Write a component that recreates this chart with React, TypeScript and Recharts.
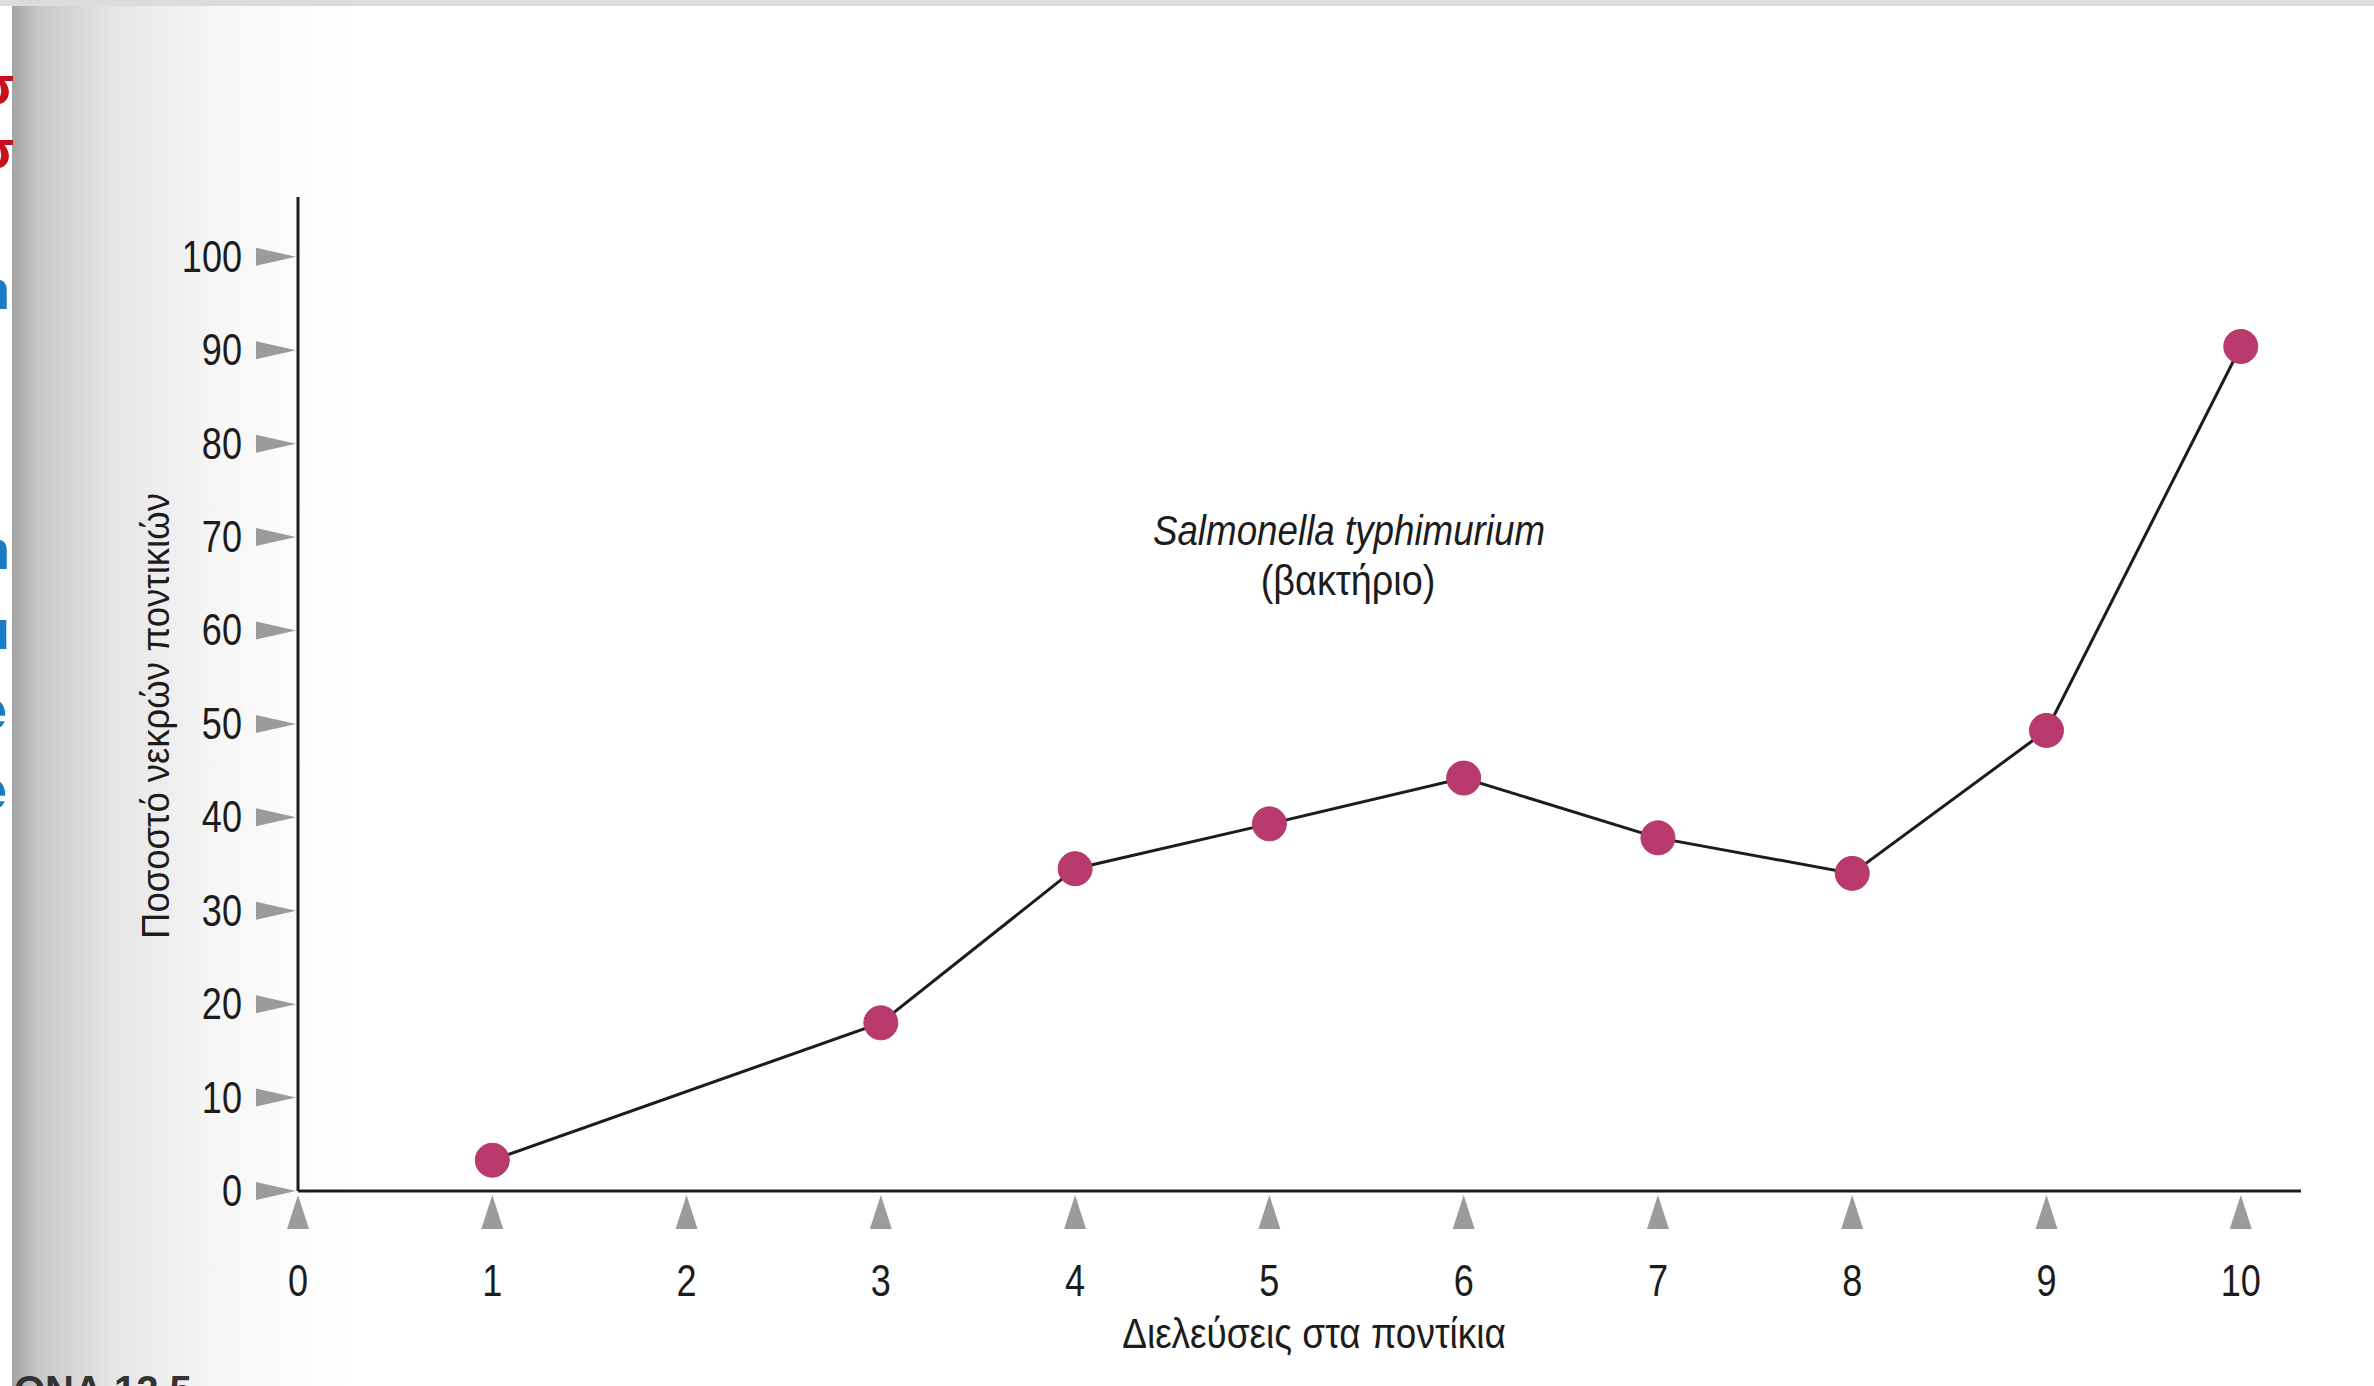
import React from 'react';
import { LineChart, Line, XAxis, YAxis } from 'recharts';

// Διελεύσεις (passages) and % dead mice
const passages = [1, 3, 4, 5, 6, 7, 8, 9, 10];
const deadPercent = [3.3, 18, 34.5, 39.3, 44.2, 37.8, 34, 49.3, 90.4];

const xTicks = [0, 1, 2, 3, 4, 5, 6, 7, 8, 9, 10];
const yTicks = [0, 10, 20, 30, 40, 50, 60, 70, 80, 90, 100];

const data = passages.map((p, i) => ({ pass: p, dead: deadPercent[i] }));

const FONT = "'Liberation Sans', Arial, sans-serif";
const INK = '#1c1c1c';
const MARKER = '#9b9b9b';
const DOT = '#b8396c';

// book uses a condensed face; squeeze the regular one
const YTick = ({ x, y, payload }: any) => (
  <g>
    <polygon points={`${x - 42},${y - 9} ${x - 42},${y + 9} ${x - 2},${y}`} fill={MARKER} />
    <text
      transform={`translate(${x - 56},${y + 15}) scale(0.82,1)`}
      textAnchor="end"
      fontSize={44}
      fontFamily={FONT}
      fill={INK}
    >
      {payload.value}
    </text>
  </g>
);

const XTick = ({ x, y, payload }: any) => (
  <g>
    <polygon points={`${x - 11},${y + 38} ${x + 11},${y + 38} ${x},${y + 4}`} fill={MARKER} />
    <text
      transform={`translate(${x},${y + 105}) scale(0.82,1)`}
      textAnchor="middle"
      fontSize={44}
      fontFamily={FONT}
      fill={INK}
    >
      {payload.value}
    </text>
  </g>
);

const redBits = ['σ', 'σ'];
const blueBits = ['n', 'ı', '-', 'n', 'u', 'e', 'e'];

export default function App() {
  return (
    <div style={{ position: 'absolute', left: 0, top: 0, width: 2374, height: 1386, background: '#fff', overflow: 'hidden', fontFamily: FONT }}>
      {/* scan shading on the left edge */}
      <div
        style={{
          position: 'absolute', left: 12, top: 0, width: 340, height: 1386,
          background: 'linear-gradient(to right, #a3a3a3 0%, #c8c8c8 8%, #e6e6e6 30%, #f6f6f6 60%, rgba(255,255,255,0) 100%)',
        }}
      />
      <div style={{ position: 'absolute', left: 0, top: 0, width: 2374, height: 6, background: '#dcdcdc' }} />

      {/* cropped slide letters */}
      <div style={{ position: 'absolute', left: 0, top: 0, width: 13, height: 900, overflow: 'hidden' }}>
        {redBits.map((c, i) => (
          <div key={'r' + i} style={{ position: 'absolute', left: -22, top: 58 + i * 64, fontSize: 54, fontWeight: 'bold', color: '#c8101e', lineHeight: 1 }}>{c}</div>
        ))}
        {blueBits.map((c, i) => (
          <div key={'b' + i} style={{ position: 'absolute', left: -24, top: 262 + i * 80 + (i > 2 ? 20 : 0), fontSize: 56, fontWeight: 'bold', color: '#1a7cc4', lineHeight: 1 }}>{c}</div>
        ))}
      </div>
      <div style={{ position: 'absolute', left: 14, top: 1368, fontSize: 40, fontWeight: 'bold', color: '#333' }}>ΟΝΑ 12.5</div>

      <div style={{ position: 'absolute', left: 0, top: 0 }}>
        <LineChart width={2374} height={1386} data={data} margin={{ top: 197, right: 73, left: 0, bottom: 0 }}>
          <XAxis
            type="number"
            dataKey="pass"
            domain={[0, 10.31]}
            ticks={xTicks}
            allowDataOverflow
            height={195}
            tickSize={0}
            tickMargin={0}
            tickLine={false}
            axisLine={{ stroke: INK, strokeWidth: 3 }}
            tick={<XTick />}
          />
          <YAxis
            type="number"
            domain={[0, 106.4]}
            ticks={yTicks}
            allowDataOverflow
            width={298}
            tickSize={0}
            tickMargin={0}
            tickLine={false}
            axisLine={{ stroke: INK, strokeWidth: 3 }}
            tick={<YTick />}
          />
          <Line
            type="linear"
            dataKey="dead"
            stroke={INK}
            strokeWidth={3}
            dot={{ r: 17, fill: DOT, stroke: DOT, strokeWidth: 1 }}
            isAnimationActive={false}
          />
        </LineChart>
      </div>

      {/* annotation */}
      <div style={{ position: 'absolute', left: 1049, top: 507, width: 600, textAlign: 'center', fontSize: 42, fontStyle: 'italic', color: INK, transform: 'scaleX(0.875)' }}>
        Salmonella typhimurium
      </div>
      <div style={{ position: 'absolute', left: 1048, top: 557, width: 600, textAlign: 'center', fontSize: 42, color: INK, transform: 'scaleX(0.9)' }}>
        (βακτήριο)
      </div>

      {/* axis titles */}
      <div style={{ position: 'absolute', left: 1014, top: 1310, width: 600, textAlign: 'center', fontSize: 42, color: INK, transform: 'scaleX(0.88)' }}>
        Διελεύσεις στα ποντίκια
      </div>
      <div
        style={{
          position: 'absolute', left: 159 - 300, top: 716 - 24, width: 600, textAlign: 'center',
          fontSize: 38, color: INK, transform: 'rotate(-90deg) scaleX(0.96)', transformOrigin: '300px 24px',
        }}
      >
        Ποσοστό νεκρών ποντικιών
      </div>
    </div>
  );
}
